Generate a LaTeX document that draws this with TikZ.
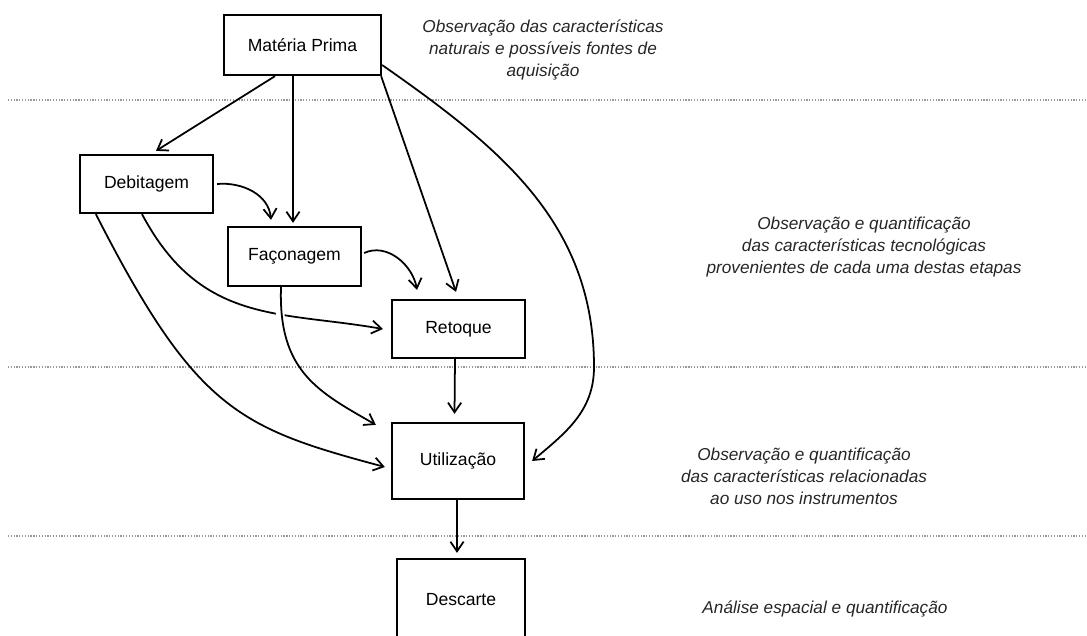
\documentclass[tikz,border=0pt]{standalone}
\usepackage{fontspec}
\setmainfont{Liberation Sans}
\usetikzlibrary{arrows.meta}

\begin{document}
\begin{tikzpicture}[x=0.02cm, y=-0.02cm, line width=1pt,
    >={Straight Barb[length=5.5pt,width=7.5pt]},
    caixa/.style={draw, line width=1.3pt, inner sep=2pt,
      font=\fontsize{10}{12}\selectfont},
    nota/.style={align=center, text=black!85,
      font=\fontsize{9.8}{12.5}\selectfont\itshape},
    divisa/.style={draw=black!40, line width=0.8pt, dash pattern=on 0.7pt off 0.9pt}]
  \useasboundingbox (0,0) rectangle (1087,635);
  \clip (0,0) rectangle (1087,635);
  % linhas que separam as etapas
  \draw[divisa] (8,100) -- (1087,100);
  \draw[divisa] (8,367) -- (1087,367);
  \draw[divisa] (8,536) -- (1087,536);
  % etapas da cadeia operatoria
  \node[caixa, minimum width=3.14cm, minimum height=1.2cm] (mp) at (302.5,45) {Matéria Prima};
  \node[caixa, minimum width=2.66cm, minimum height=1.16cm] (deb) at (146.5,184) {Debitagem};
  \node[caixa, minimum width=2.66cm, minimum height=1.18cm] (fac) at (294.5,256.5) {Façonagem};
  \node[caixa, minimum width=2.66cm, minimum height=1.16cm] (ret) at (458.5,329) {Retoque};
  \node[caixa, minimum width=2.64cm, minimum height=1.52cm] (uti) at (458,461) {Utilização};
  \node[caixa, minimum width=2.56cm, minimum height=1.64cm] (des) at (461,600) {Descarte};
  % observacoes a direita
  \node[nota] (n1) at (543,50) {Observação das características\\naturais e possíveis fontes de\\aquisição};
  \node[nota] (n2) at (864,247) {Observação e quantificação\\das características tecnológicas\\provenientes de cada uma destas etapas};
  \node[nota] (n3) at (804,476) {Observação e quantificação\\das características relacionadas\\ao uso nos instrumentos};
  \node[nota] (n4) at (825,609) {Análise espacial e quantificação};
  \coordinate (volta) at (594,367);
  % setas que saem da materia prima
  \draw[->] ([xshift=-0.55cm]mp.south) -- ([xshift=0.19cm,yshift=0.06cm]deb.north);
  \draw[->] ([xshift=-0.19cm]mp.south) -- ([xshift=-0.03cm,yshift=0.06cm]fac.north);
  \draw[->] ([xshift=-0.02cm]mp.south east) -- ([xshift=-0.05cm,yshift=0.14cm]ret.north);
  \draw[->] ([yshift=-0.4cm]mp.east) to[out=-35,in=90] (volta)
    to[out=-90,in=40] ([xshift=0.14cm]uti.east);
  % debitagem e façonagem
  \draw[->] ([xshift=0.06cm]deb.east) to[out=5,in=95] ([xshift=-0.47cm,yshift=0.12cm]fac.north);
  \draw[->] ([xshift=0.04cm,yshift=0.07cm]fac.east) to[out=25,in=100] ([xshift=-0.83cm,yshift=0.18cm]ret.north);
  \draw[->] ([xshift=-0.09cm]deb.south) to[out=-62,in=170,out looseness=1.2] ([xshift=-0.16cm]ret.west);
  \draw[->] ([xshift=0.34cm]deb.south west) to[out=-63,in=165,out looseness=1.47] ([xshift=-0.12cm,yshift=-0.12cm]uti.west);
  % corte onde a linha passa por cima
  \draw[white, line width=5pt] ([xshift=-0.28cm,yshift=-0.35cm]fac.south) -- ([xshift=-0.3cm,yshift=-0.95cm]fac.south);
  \draw[->] ([xshift=-0.27cm]fac.south) to[out=-92,in=150,out looseness=1.3] ([xshift=-0.3cm,yshift=-0.06cm]uti.north west);
  % retoque, utilizacao, descarte
  \draw[->] ([xshift=-0.07cm]ret.south) -- ([xshift=-0.07cm,yshift=0.16cm]uti.north);
  \draw[->] ([xshift=-0.02cm]uti.south) -- ([xshift=-0.08cm,yshift=0.1cm]des.north);
\end{tikzpicture}
\end{document}
